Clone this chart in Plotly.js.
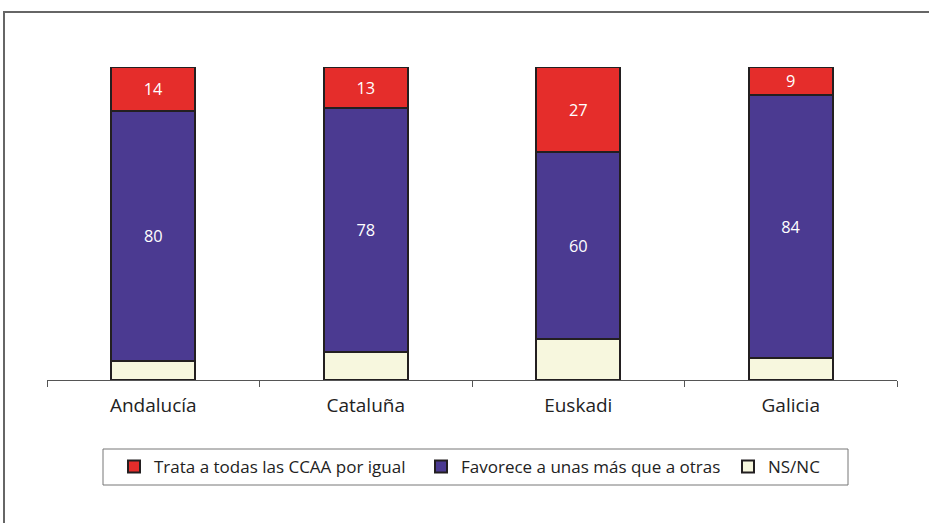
<!DOCTYPE html>
<html><head><meta charset="utf-8">
<script src="https://cdn.plot.ly/plotly-3.0.1.min.js"></script>
<style>body{margin:0;background:#fff}#chart{width:929px;height:523px}</style>
</head><body><div id="chart"></div>
<script>
const categories = ["Andalucía", "Cataluña", "Euskadi", "Galicia"];
const trata = [14, 13, 27, 9];
const favorece = [80, 78, 60, 84];
const nsnc = [6, 9, 13, 7];
const seriesNames = ["Trata a todas las CCAA por igual", "Favorece a unas más que a otras", "NS/NC"];

const line = {color: "#231f20", width: 2};
const font = "Open Sans, Liberation Sans, sans-serif";
const traces = [
  {type: "bar", name: seriesNames[2], x: categories, y: nsnc, legend: "legend3",
   marker: {color: "#f7f7de", line: line}, hoverinfo: "none"},
  {type: "bar", name: seriesNames[1], x: categories, y: favorece, legend: "legend2",
   marker: {color: "#4b3a91", line: line},
   text: favorece.map(String), textposition: "inside", insidetextanchor: "middle", textangle: 0,
   textfont: {color: "#ffffff", size: 17, family: font}},
  {type: "bar", name: seriesNames[0], x: categories, y: trata, legend: "legend",
   marker: {color: "#e52d2b", line: line},
   text: trata.map(String), textposition: "inside", insidetextanchor: "middle", textangle: 0,
   textfont: {color: "#ffffff", size: 17, family: font}}
];

const px = v => (v - 47) / 850;
const legendBase = {orientation: "h", xanchor: "left", y: -0.278, yanchor: "middle",
  bgcolor: "rgba(0,0,0,0)", borderwidth: 0, itemwidth: 30,
  font: {size: 17, family: font, color: "#222"}};

const layout = {
  width: 929, height: 523,
  margin: {l: 47, r: 32, t: 67, b: 143},
  barmode: "stack", bargap: 0.605,
  paper_bgcolor: "#ffffff", plot_bgcolor: "#ffffff",
  font: {family: font, color: "#222", size: 16},
  showlegend: true,
  legend: Object.assign({}, legendBase, {x: px(114)}),
  legend2: Object.assign({}, legendBase, {x: px(421)}),
  legend3: Object.assign({}, legendBase, {x: px(728)}),
  xaxis: {type: "category", showline: true, linecolor: "#555", linewidth: 1,
          ticks: "outside", tickson: "boundaries", ticklen: 6, tickcolor: "#555",
          ticklabelstandoff: 8,
          tickfont: {size: 19, family: font, color: "#222"}, showgrid: false},
  yaxis: {range: [0, 100], visible: false, showgrid: false, zeroline: false},
  uniformtext: {mode: "show", minsize: 10},
  shapes: [
    {type: "rect", xref: "paper", yref: "paper", x0: -43/850, x1: 1.2, y0: -1, y1: (380-12)/313,
     line: {color: "#666", width: 2}, fillcolor: "rgba(0,0,0,0)"},
    {type: "rect", xref: "paper", yref: "paper", x0: px(103), x1: px(848),
     y0: -(485-380)/313, y1: -(449-380)/313, line: {color: "#777", width: 1}, fillcolor: "rgba(0,0,0,0)"}
  ]
};
Plotly.newPlot("chart", traces, layout, {displayModeBar: false, staticPlot: true});
</script></body></html>
